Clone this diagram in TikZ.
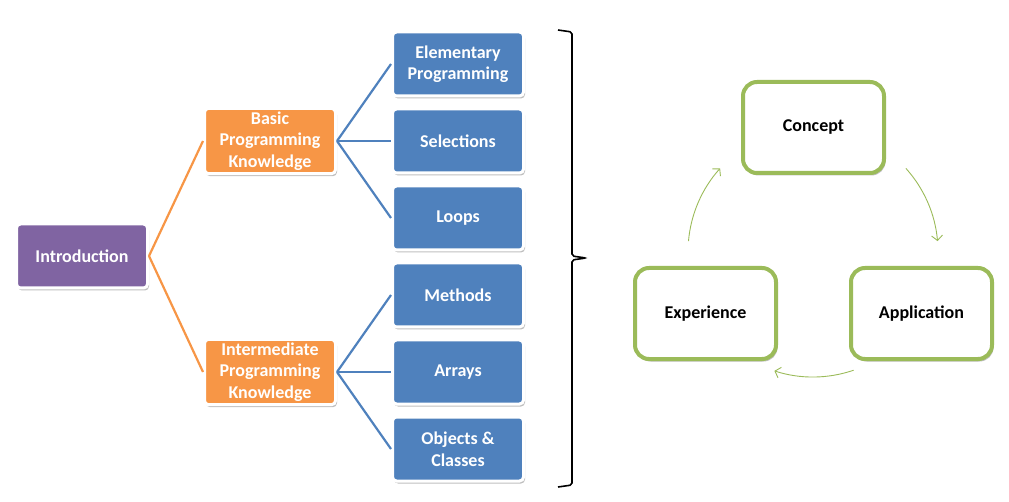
\documentclass[tikz,border=0pt]{standalone}
\usepackage{fontspec}
\setmainfont{Carlito}
\usetikzlibrary{arrows.meta, positioning, shadows}
\usepackage{xcolor}

\definecolor{intropurple}{HTML}{8064A2}
\definecolor{topicorange}{HTML}{F79646}
\definecolor{lessonblue}{HTML}{4F81BD}
\definecolor{phasegreen}{HTML}{9BBB59}

\begin{document}
\begin{tikzpicture}[
    x=1pt, y=1pt,
    node distance=10pt and 54pt,
    box/.style={rectangle, rounded corners=4pt, draw=white, line width=3pt, minimum width=131pt, minimum height=64pt, align=center, text=white, font=\fontsize{18}{21.5}\selectfont\bfseries, drop shadow={shadow xshift=1.5pt, shadow yshift=-2.5pt, opacity=0.25, fill=black}},
    intro/.style={box, fill=intropurple},
    topic/.style={box, fill=topicorange},
    lesson/.style={box, fill=lessonblue},
    phase/.style={rectangle, rounded corners=14pt, draw=phasegreen, line width=4pt, fill=white, minimum width=141pt, minimum height=91pt, align=center, font=\fontsize{18}{21.5}\selectfont\bfseries, drop shadow={shadow xshift=1.5pt, shadow yshift=-2.5pt, opacity=0.25, fill=black}},
    branch/.style={line width=2.2pt, topicorange},
    leaf/.style={line width=2.2pt, lessonblue},
    turn/.style={line width=0.9pt, phasegreen, -{Straight Barb[length=5pt, width=11pt]}}
]
\useasboundingbox (0,0) rectangle (1009,501);

% Course tree
\node[intro] (intro) at (82,245) {Introduction};
\node[topic] (basic) at (270,360) {Basic\\Programming\\Knowledge};
\node[lesson, right=of basic] (sel) {Selections};
\node[lesson, above=of sel] (elem) {Elementary\\Programming};
\node[lesson, below=of sel] (loops) {Loops};
\node[lesson, below=of loops] (methods) {Methods};
\node[lesson, below=of methods] (arrays) {Arrays};
\node[lesson, below=of arrays] (objects) {Objects \&\\Classes};
\node[topic, left=of arrays] (inter) {Intermediate\\Programming\\Knowledge};

\draw[branch] (intro.east) -- (basic.west);
\draw[branch] (intro.east) -- (inter.west);
\foreach \n in {elem, sel, loops}
    \draw[leaf] (basic.east) -- (\n.west);
\foreach \n in {methods, arrays, objects}
    \draw[leaf] (inter.east) -- (\n.west);

% Brace
\draw[line width=1.6pt, rounded corners=2pt] (558,471) -- (572,469) -- (572,245) -- (586,243) -- (572,241) -- (572,16) -- (558,14);

% Learning cycle
\coordinate (cyc) at (813,249);
\node[phase] (concept) at (813.5,373.5) {Concept};
\node[phase] (exp) at (705.5,187.5) {Experience};
\node[phase, right=71pt of exp] (app) {Application};

\foreach \a in {42,-71,175}
    \draw[turn] ([shift={(\a:125)}]cyc) arc[start angle=\a, delta angle=-37, radius=125];

\end{tikzpicture}
\end{document}
